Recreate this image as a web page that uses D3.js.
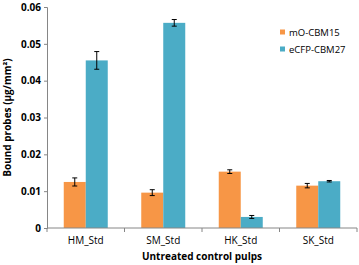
<!DOCTYPE html>
<html>
<head>
<meta charset="utf-8">
<script src="https://cdn.jsdelivr.net/npm/d3@7"></script>
<style>
  body { margin: 0; background: #fff; }
  svg { display: block; }
</style>
</head>
<body>
<div id="chart"></div>
<script>
const categories = ['HM_Std', 'SM_Std', 'HK_Std', 'SK_Std'];
const seriesNames = ['mO-CBM15', 'eCFP-CBM27'];
const seriesColors = ['#F79646', '#4BACC6'];
const cbm15Values = [0.0125, 0.0096, 0.0153, 0.0115];
const cbm15Errors = [0.0011, 0.0008, 0.0005, 0.0006];
const cbm27Values = [0.0455, 0.0557, 0.0030, 0.0127];
const cbm27Errors = [0.0024, 0.0009, 0.0004, 0.0002];
const yTicks = [0, 0.01, 0.02, 0.03, 0.04, 0.05, 0.06];

const W = 359, H = 265;
const margin = { top: 7, right: 2, bottom: 37, left: 47 };
const width = W - margin.left - margin.right;
const height = H - margin.top - margin.bottom;
const font = 'Open Sans, Liberation Sans, sans-serif';

const svg = d3.select('#chart').append('svg')
  .attr('width', W)
  .attr('height', H);

const g = svg.append('g')
  .attr('transform', `translate(${margin.left},${margin.top})`);

const x0 = d3.scaleBand().domain(categories).range([0, width]).paddingInner(0).paddingOuter(0);
const x1 = d3.scaleBand().domain(seriesNames).range([0, 44]);
const y = d3.scaleLinear().domain([0, 0.06]).range([height, 0]);

const rows = categories.map((c, i) => ({
  cat: c,
  vals: [
    { s: seriesNames[0], v: cbm15Values[i], e: cbm15Errors[i], color: seriesColors[0] },
    { s: seriesNames[1], v: cbm27Values[i], e: cbm27Errors[i], color: seriesColors[1] }
  ]
}));

const groups = g.selectAll('.grp').data(rows).enter().append('g')
  .attr('transform', d => `translate(${x0(d.cat) + (x0.bandwidth() - 44) / 2},0)`);

groups.selectAll('rect').data(d => d.vals).enter().append('rect')
  .attr('x', d => x1(d.s))
  .attr('width', x1.bandwidth())
  .attr('y', d => y(d.v))
  .attr('height', d => height - y(d.v))
  .attr('fill', d => d.color);

// error bars
const eb = groups.selectAll('.err').data(d => d.vals).enter().append('g')
  .attr('stroke', '#000').attr('stroke-width', 1);
eb.append('line')
  .attr('x1', d => x1(d.s) + x1.bandwidth() / 2)
  .attr('x2', d => x1(d.s) + x1.bandwidth() / 2)
  .attr('y1', d => y(d.v + d.e))
  .attr('y2', d => y(d.v - d.e));
eb.append('line')
  .attr('x1', d => x1(d.s) + x1.bandwidth() / 2 - 2.5)
  .attr('x2', d => x1(d.s) + x1.bandwidth() / 2 + 2.5)
  .attr('y1', d => y(d.v + d.e))
  .attr('y2', d => y(d.v + d.e));
eb.append('line')
  .attr('x1', d => x1(d.s) + x1.bandwidth() / 2 - 2.5)
  .attr('x2', d => x1(d.s) + x1.bandwidth() / 2 + 2.5)
  .attr('y1', d => y(d.v - d.e))
  .attr('y2', d => y(d.v - d.e));

// y axis
const yAxis = g.append('g')
  .call(d3.axisLeft(y).tickValues(yTicks).tickSize(3).tickFormat(d => d === 0 ? '0' : d3.format('.2f')(d)));
yAxis.selectAll('text')
  .attr('font-family', font).attr('font-size', '10px').attr('font-weight', 'bold')
  .attr('fill', '#000').attr('x', -6);

// x axis
const xAxis = g.append('g').attr('transform', `translate(0,${height})`)
  .call(d3.axisBottom(x0).tickSize(0).tickPadding(9));
xAxis.selectAll('text')
  .attr('font-family', font).attr('font-size', '10px').attr('fill', '#000');
const boundaries = [0, 1, 2, 3, 4].map(i => i * x0.step());
xAxis.selectAll('.bt').data(boundaries).enter().append('line')
  .attr('x1', d => d).attr('x2', d => d).attr('y1', 0).attr('y2', 4)
  .attr('stroke', '#868686');

g.selectAll('.domain').attr('stroke', '#868686');
g.selectAll('.tick line').attr('stroke', '#868686');
xAxis.select('.domain').attr('d', `M0,0H${width}`);

// axis titles
svg.append('text')
  .attr('x', margin.left + width / 2)
  .attr('y', H - 5)
  .attr('text-anchor', 'middle')
  .attr('font-family', font).attr('font-size', '10px').attr('font-weight', 'bold')
  .text('Untreated control pulps');

svg.append('text')
  .attr('transform', 'rotate(-90)')
  .attr('x', -(margin.top + height / 2))
  .attr('y', 11)
  .attr('text-anchor', 'middle')
  .attr('font-family', font).attr('font-size', '10px').attr('font-weight', 'bold')
  .text('Bound probes (µg/mm²)');

// legend
const legend = svg.append('g').attr('transform', 'translate(280,28)');
seriesNames.forEach((s, i) => {
  const row = legend.append('g').attr('transform', `translate(0,${i * 17})`);
  row.append('rect').attr('x', 0).attr('y', 1.5).attr('width', 5).attr('height', 5).attr('fill', seriesColors[i]);
  row.append('text').attr('x', 9).attr('y', 8)
    .attr('font-family', font).attr('font-size', '9.5px').attr('fill', '#000')
    .text(s);
});
</script>
</body>
</html>
